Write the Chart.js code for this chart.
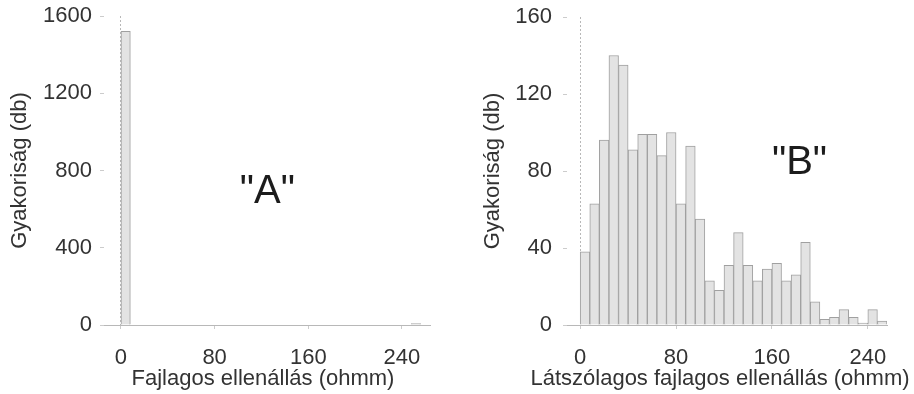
<!DOCTYPE html>
<html>
<head>
<meta charset="utf-8">
<script src="https://cdn.jsdelivr.net/npm/chart.js@4.4.1/dist/chart.umd.min.js"></script>
<style>
  html, body { margin: 0; padding: 0; background: #fff; }
  #wrap { position: relative; width: 914px; height: 394px; }
  canvas { position: absolute; top: 0; }
  #chartA { left: 0; }
  #chartB { left: 457px; }
</style>
</head>
<body>
<div id="wrap">
  <canvas id="chartA" width="457" height="394"></canvas>
  <canvas id="chartB" width="457" height="394"></canvas>
</div>
<script>
// Histogram bins, 8 ohmm wide (bin centres)
const binCenters = [4, 12, 20, 28, 36, 44, 52, 60, 68, 76, 84, 92, 100, 108, 116, 124,
                    132, 140, 148, 156, 164, 172, 180, 188, 196, 204, 212, 220, 228, 236, 244, 252];

// "A": resistivity
const countsA = [1520, 0, 0, 0, 0, 0, 0, 0, 0, 0, 0, 0, 0, 0, 0, 0,
                 0, 0, 0, 0, 0, 0, 0, 0, 0, 0, 0, 0, 0, 0, 0, 8];

// "B": apparent resistivity
const countsB = [38, 63, 96, 140, 135, 91, 99, 99, 88, 100, 63, 93, 55, 23, 18, 31,
                 48, 31, 23, 29, 32, 23, 26, 43, 12, 3, 4, 8, 4, 1, 8, 2];

const xTicks = [0, 80, 160, 240];
const yTicksA = [0, 400, 800, 1200, 1600];
const yTicksB = [0, 40, 80, 120, 160];

const FONT = "'Liberation Sans', Arial, sans-serif";
Chart.defaults.font.family = FONT;
Chart.defaults.color = "#333";

// big panel letter + x axis caption (the axis title would get squeezed to the plot width)
const panelText = {
    id: "panelText",
    afterDraw(chart, args, opts) {
        const ctx = chart.ctx;
        const x = chart.scales.x.getPixelForValue(opts.x);
        const y = chart.scales.y.getPixelForValue(opts.y);
        ctx.save();
        ctx.textAlign = "center";
        ctx.textBaseline = "middle";
        ctx.font = "40px " + FONT;
        ctx.fillStyle = "#1c1c1c";
        ctx.fillText(opts.text, x, y);
        ctx.font = "22px " + FONT;
        ctx.fillStyle = "#333";
        ctx.fillText(opts.caption, opts.captionX, opts.captionY);
        ctx.restore();
    }
};

function makeHistogram(canvasId, counts, cfg) {
    const ctx = document.getElementById(canvasId).getContext("2d");

    new Chart(ctx, {
        type: "bar",
        data: {
            datasets: [{
                data: binCenters.map((c, i) => ({ x: c, y: counts[i] })),
                backgroundColor: "#e3e3e3",
                borderColor: "#a0a0a0",
                borderWidth: 1,
                barPercentage: 1,
                categoryPercentage: 1
            }]
        },
        options: {
            responsive: false,
            animation: false,
            layout: { padding: { top: cfg.topPad, right: 27, left: 0, bottom: 0 } },
            plugins: {
                legend: { display: false },
                tooltip: { enabled: false },
                panelText: {
                    text: cfg.letter, x: cfg.letterX, y: cfg.letterY,
                    caption: cfg.xTitle, captionX: 263, captionY: 379
                }
            },
            scales: {
                x: {
                    type: "linear",
                    offset: false,
                    min: cfg.xMin,
                    max: cfg.xMax,
                    afterBuildTicks: (s) => { s.ticks = xTicks.map(v => ({ value: v })); },
                    afterFit: (s) => { s.height = 69; s.paddingLeft = 0; s.paddingRight = 0; },
                    ticks: { font: { size: 22 }, padding: 16, maxRotation: 0, callback: (v) => String(v) },
                    grid: {
                        offset: false,
                        drawOnChartArea: true,
                        color: (c) => (c.tick && c.tick.value === 0 ? "#b8b8b8" : "rgba(0,0,0,0)"),
                        tickColor: "#cccccc",
                        tickLength: 4
                    },
                    border: { color: "#b8b8b8", dash: [2, 2] }
                },
                y: {
                    min: 0,
                    max: cfg.yMax,
                    afterBuildTicks: (s) => { s.ticks = cfg.yTicks.map(v => ({ value: v })); },
                    afterFit: (s) => { s.width = cfg.yWidth; s.paddingTop = 0; s.paddingBottom = 0; },
                    ticks: { font: { size: 22 }, padding: cfg.yLabelPad, callback: (v) => String(v) },
                    grid: { drawOnChartArea: false, tickColor: "#cccccc", tickLength: 4 },
                    border: { display: false },
                    title: {
                        display: true,
                        text: "Gyakoriság (db)",
                        font: { size: 22 },
                        padding: { top: cfg.yTitlePad, bottom: 0 }
                    }
                }
            }
        },
        plugins: [panelText]
    });
}

makeHistogram("chartA", countsA, {
    xMin: -14.5, xMax: 264, yMax: 1600, yTicks: yTicksA,
    yWidth: 104, yLabelPad: 8, yTitlePad: 7, topPad: 16,
    xTitle: "Fajlagos ellenállás (ohmm)",
    letter: "\"A\"", letterX: 125, letterY: 690
});

makeHistogram("chartB", countsB, {
    xMin: -11, xMax: 256, yMax: 160, yTicks: yTicksB,
    yWidth: 110, yLabelPad: 11, yTitlePad: 23, topPad: 17,
    xTitle: "Látszólagos fajlagos ellenállás (ohmm)",
    letter: "\"B\"", letterX: 183, letterY: 84
});
</script>
</body>
</html>
